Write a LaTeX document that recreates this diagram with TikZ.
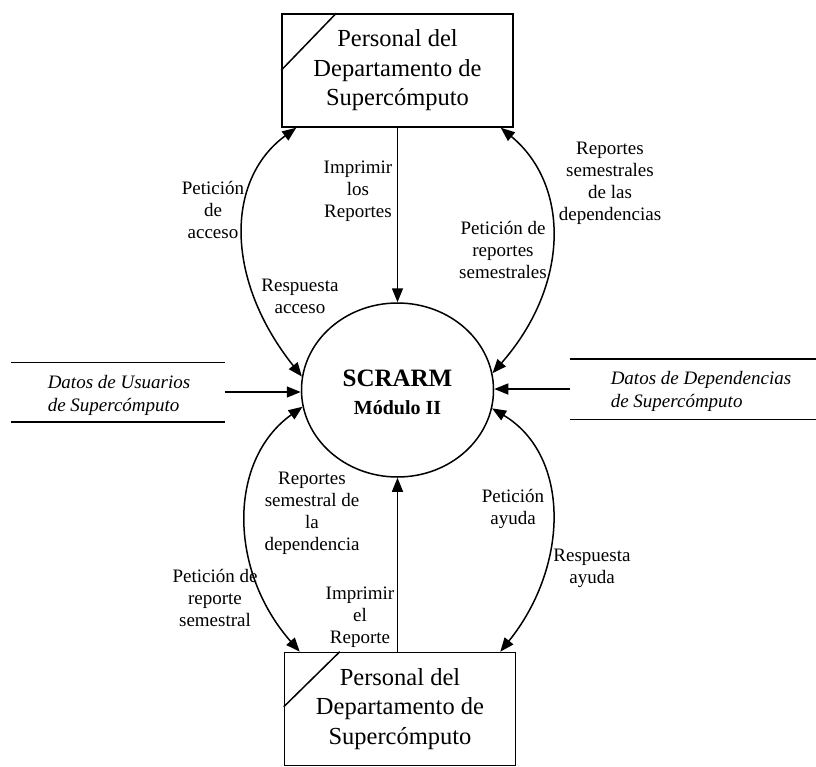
\documentclass[tikz,border=0pt]{standalone}
\usepackage{fontspec}
\setmainfont{Liberation Serif}
\usetikzlibrary{arrows.meta,shapes.geometric,calc}

\begin{document}
\begin{tikzpicture}[x=1pt,y=-1pt,line width=1.5pt,
  tip/.tip={Triangle[length=14pt,width=11pt]},
  flow/.style={-tip},
  biflow/.style={tip-tip},
  entity/.style={draw,minimum width=231pt,minimum height=113pt,align=center,
    inner sep=0pt,font=\fontsize{24.5}{29.5}\selectfont},
  process/.style={draw,ellipse,minimum width=192pt,minimum height=174pt,inner sep=0pt},
  store/.style={inner sep=0pt},
  storetext/.style={align=left,anchor=west,inner sep=0pt,
    font=\fontsize{19}{23}\itshape\selectfont},
  lbl/.style={align=center,inner sep=0pt,font=\fontsize{19}{22}\selectfont}
]
\fill[white] (0,0) rectangle (816,767);
\useasboundingbox (0,0) rectangle (816,767);

% external entities
\node[entity] (top) at (397.5,70.5) {Personal del\\Departamento de\\Supercómputo};
\draw ($(top.north west)+(55,0)$) -- ($(top.north west)+(0,57)$);
\node[entity] (bot) at (400,709) {Personal del\\Departamento de\\Supercómputo};
\draw ($(bot.north west)+(56,0)$) -- ($(bot.north west)+(0,55)$);

% process
\node[process] (proc) at (397.5,390) {};
\node[inner sep=0pt,font=\fontsize{25}{28}\bfseries\selectfont] (ptitle) at (397.5,378) {SCRARM};
\node[inner sep=0pt,font=\fontsize{20}{24}\bfseries\selectfont] (psub) at (397.5,408) {Módulo II};

% data stores
\node[store,minimum width=212pt,minimum height=58pt] (dsu) at (118,392) {};
\draw (dsu.north west) -- (dsu.north east) (dsu.south west) -- (dsu.south east);
\node[storetext] (dsutext) at (47,395) {Datos de Usuarios\\de Supercómputo};
\node[store,minimum width=245pt,minimum height=59pt] (dsd) at (693.5,389) {};
\draw (dsd.north west) -- (dsd.north east) (dsd.south west) -- (dsd.south east);
\node[storetext] (dsdtext) at (610,391) {Datos de Dependencias\\de Supercómputo};

\draw[flow] (dsu.east) -- (dsu.east -| proc.west);
\draw[flow] (dsd.west) -- (dsd.west -| proc.east);

% flows between the upper entity and the process
\draw[biflow] ($(top.south west)+(15,0)$) .. controls (225,180) and (225,280) .. (proc.172);
\draw[flow] (top.south -| proc.north) -- (proc.north);
\draw[biflow] ($(top.south east)+(-13,0)$) .. controls (570,185) and (570,285) .. (proc.10);

% flows between the process and the lower entity
\draw[biflow] (proc.190) .. controls (228,460) and (228,570) .. ($(bot.north west)+(16,0)$);
\draw[flow] (bot.north -| proc.south) -- (proc.south);
\draw[biflow] (proc.349) .. controls (570,455) and (570,565) .. ($(bot.north east)+(-16,0)$);

% labels
\node[lbl] (l1) at (213,210) {Petición\\de\\acceso};
\node[lbl] (l2) at (300,296) {Respuesta\\acceso};
\node[lbl] (l3) at (358,191) {Imprimir\\los\\Reportes};
\node[lbl] (l4) at (610,183) {Reportes\\semestrales\\de las\\dependencias};
\node[lbl] (l5) at (503,250) {Petición de\\reportes\\semestrales};
\node[lbl] (l6) at (312,513) {Reportes\\semestral de\\la\\dependencia};
\node[lbl] (l7) at (215,598) {Petición de\\reporte\\semestral};
\node[lbl] (l8) at (360,617) {Imprimir\\el\\Reporte};
\node[lbl] (l9) at (513,509) {Petición\\ayuda};
\node[lbl] (l10) at (592,568) {Respuesta\\ayuda};
\end{tikzpicture}
\end{document}
